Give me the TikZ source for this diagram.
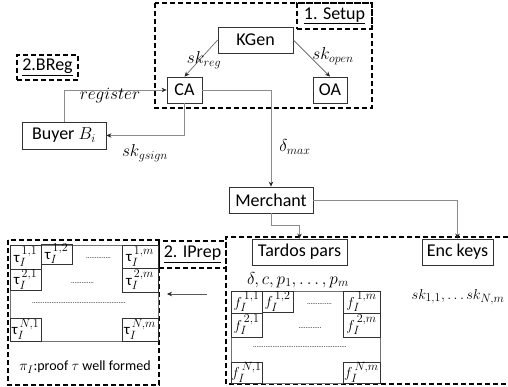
\documentclass[tikz,border=0pt]{standalone}
\usepackage{fontspec}
\setmainfont{Carlito}
\DeclareMathSizes{18}{18}{13}{10}
\DeclareMathSizes{16}{16}{12}{9}
\DeclareMathSizes{15}{15}{11.5}{8.5}
\DeclareMathSizes{14}{14}{10.5}{8}
\usetikzlibrary{arrows.meta}
\begin{document}
\begin{tikzpicture}[x=1pt,y=-1pt,
 box/.style={draw=black!80,line width=0.8pt,inner sep=0pt,font=\fontsize{18}{20}\selectfont},
 conn/.style={draw=black!45,line width=0.8pt,-{Stealth[length=5pt,width=4.5pt,black!85]}},
 thin/.style={draw=black!65,line width=0.6pt,-{Stealth[length=5pt,width=4.5pt,black!85]}},
 dbox/.style={draw=black,line width=1.3pt,dash pattern=on 5pt off 3pt},
 dlabel/.style={dbox,inner sep=0pt,font=\fontsize{18}{20}\selectfont},
 lbl/.style={inner sep=0pt,font=\fontsize{16}{18}\selectfont},
 cell/.style={draw=black!80,line width=0.8pt,inner sep=0pt,font=\fontsize{15}{17}\selectfont},
 dotsty/.style={inner sep=0pt,font=\fontsize{7}{8}\selectfont},
 outer/.style={draw=black!55,line width=0.8pt}
]
\useasboundingbox (0,0) rectangle (508,387);

% dashed regions
\draw[dbox] (155,3) rectangle (372,108);
\node[dlabel,minimum width=75pt,minimum height=26pt] (setup) at (334.5,16) {\underline{1. Setup}};
\node[dlabel,minimum width=61pt,minimum height=25pt] (breg) at (47.5,67.5) {\underline{2.BReg}};
\draw[dbox] (8,240) rectangle (159,385);
\node[dlabel,minimum width=67pt,minimum height=27pt] (iprep) at (192.5,254.5) {\underline{2. IPrep}};
\draw[dbox] (508,237) -- (226,237) -- (226,384) -- (508,384);

% main nodes
\node[box,minimum width=75pt,minimum height=26pt] (kgen) at (255.5,40) {KGen};
\node[box,minimum width=35pt,minimum height=26pt] (ca) at (184.5,90) {CA};
\node[box,minimum width=34pt,minimum height=26pt] (oa) at (330,90) {OA};
\node[box,minimum width=84pt,minimum height=27pt] (buyer) at (64,135.5) {Buyer $B_i$};
\node[box,minimum width=84pt,minimum height=26pt] (merchant) at (271,200) {Merchant};
\node[box,minimum width=95pt,minimum height=26pt] (tardos) at (299.5,252) {Tardos pars};
\node[box,minimum width=71pt,minimum height=26pt] (enc) at (457.5,252) {Enc keys};

% connectors
\draw[thin] (kgen.west) -- (ca.north);
\draw[thin] (kgen.east) -- (oa.north);
\draw[conn] (buyer.north) |- (ca.west);
\draw[conn] (ca.south) |- (buyer.east);
\draw[conn] (ca.east) -| (merchant.north);
\coordinate (mt) at (0,225);
\draw[conn] (merchant.south) -- (merchant.south |- mt) -| (tardos.north);
\draw[conn] (merchant.east) -| (enc.north);
\coordinate (arrS) at (207,294);
\coordinate (arrE) at (167,294);
\draw[thin] (arrS) -- (arrE);

% labels
\node[lbl] (lreg) at (204,60) {$sk_{reg}$};
\node[lbl] (lopen) at (333,56) {$sk_{open}$};
\node[lbl] (lregister) at (110,96) {$register$};
\node[lbl] (lgsign) at (145,153) {$sk_{gsign}$};
\node[lbl] (ldelta) at (295,147) {$\delta_{max}$};
\node[lbl] (lpars) at (298,280) {$\delta,c,p_1,\ldots,p_m$};
\node[lbl,font=\fontsize{15}{17}\selectfont] (lsk) at (458,297) {$sk_{1,1},\ldots sk_{N,m}$};
\node[lbl,font=\fontsize{14}{16}\selectfont] (lproof) at (85,367) {$\pi_I$:proof $\tau$ well formed};

% tau matrix
\draw[outer] (10,245) rectangle (158,341);
\node[cell,minimum width=31pt,minimum height=24pt] (t11) at (25.5,257) {τ$_I^{\,1,1}$};
\node[cell,minimum width=31pt,minimum height=18pt] (t12) at (56.5,254) {τ$_I^{\,1,2}$};
\node[cell,minimum width=36pt,minimum height=23pt] (t1m) at (140,256.5) {τ$_I^{\,1,m}$};
\node[cell,minimum width=31pt,minimum height=21pt] (t21) at (25.5,279.5) {τ$_I^{\,2,1}$};
\node[cell,minimum width=36pt,minimum height=24pt] (t2m) at (140,280) {τ$_I^{\,2,m}$};
\node[cell,minimum width=31pt,minimum height=23pt] (tN1) at (25.5,329.5) {τ$_I^{\,N,1}$};
\node[cell,minimum width=36pt,minimum height=23pt] (tNm) at (140,329.5) {τ$_I^{\,N,m}$};
\node[dotsty] (td1) at (98.5,258) {..............};
\node[dotsty] (td2) at (82.5,283) {.............};
\node[dotsty] (td3) at (79,303) {.....................................................};

% f matrix
\draw[outer] (231,291) rectangle (380,383);
\node[cell,minimum width=31pt,minimum height=22pt] (f11) at (246.5,302) {$f_I^{\,1,1}$};
\node[cell,minimum width=31pt,minimum height=21pt] (f12) at (277.5,301.5) {$f_I^{\,1,2}$};
\node[cell,minimum width=37pt,minimum height=22pt] (f1m) at (361.5,302) {$f_I^{\,1,m}$};
\node[cell,minimum width=31pt,minimum height=24pt] (f21) at (246.5,325) {$f_I^{\,2,1}$};
\node[cell,minimum width=37pt,minimum height=24pt] (f2m) at (361.5,325) {$f_I^{\,2,m}$};
\node[cell,minimum width=31pt,minimum height=21pt] (fN1) at (246.5,372.5) {$f_I^{\,N,1}$};
\node[cell,minimum width=37pt,minimum height=21pt] (fNm) at (361.5,372.5) {$f_I^{\,N,m}$};
\node[dotsty] (fd1) at (319.5,304) {..............};
\node[dotsty] (fd2) at (310,328) {.............};
\node[dotsty] (fd3) at (300,347) {.....................................................};
\end{tikzpicture}
\end{document}
